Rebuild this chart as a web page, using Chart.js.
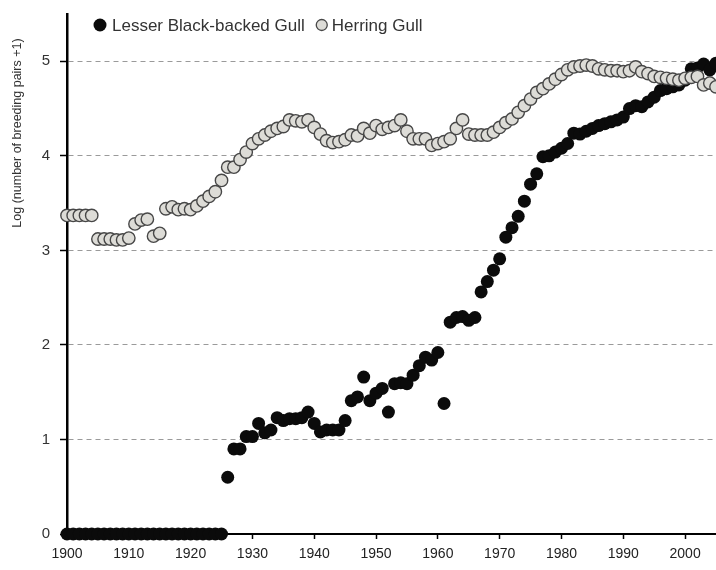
<!DOCTYPE html>
<html>
<head>
<meta charset="utf-8">
<script src="https://cdn.jsdelivr.net/npm/chart.js@4.4.1/dist/chart.umd.min.js"></script>
<style>
  html, body { margin: 0; padding: 0; background: #ffffff; }
  #wrap { width: 716px; height: 570px; }
</style>
</head>
<body>
<div id="wrap"><canvas id="c" width="716" height="570"></canvas></div>
<script>
const seriesNames = ['Lesser Black-backed Gull', 'Herring Gull'];
const yTitle = 'Log (number of breeding pairs +1)';
const yTickValues = [0, 1, 2, 3, 4, 5];
const xTickValues = [1900, 1910, 1920, 1930, 1940, 1950, 1960, 1970, 1980, 1990, 2000];

const years = [
  1900,1901,1902,1903,1904,1905,1906,1907,1908,1909,
  1910,1911,1912,1913,1914,1915,1916,1917,1918,1919,
  1920,1921,1922,1923,1924,1925,1926,1927,1928,1929,
  1930,1931,1932,1933,1934,1935,1936,1937,1938,1939,
  1940,1941,1942,1943,1944,1945,1946,1947,1948,1949,
  1950,1951,1952,1953,1954,1955,1956,1957,1958,1959,
  1960,1961,1962,1963,1964,1965,1966,1967,1968,1969,
  1970,1971,1972,1973,1974,1975,1976,1977,1978,1979,
  1980,1981,1982,1983,1984,1985,1986,1987,1988,1989,
  1990,1991,1992,1993,1994,1995,1996,1997,1998,1999,
  2000,2001,2002,2003,2004,2005
];

const lesserBlackBacked = [
  0,0,0,0,0,0,0,0,0,0,
  0,0,0,0,0,0,0,0,0,0,
  0,0,0,0,0,0,0.60,0.90,0.90,1.03,
  1.03,1.17,1.07,1.10,1.23,1.20,1.22,1.22,1.23,1.29,
  1.17,1.08,1.10,1.10,1.10,1.20,1.41,1.45,1.66,1.41,
  1.49,1.54,1.29,1.59,1.60,1.59,1.68,1.78,1.87,1.84,
  1.92,1.38,2.24,2.29,2.30,2.26,2.29,2.56,2.67,2.79,
  2.91,3.14,3.24,3.36,3.52,3.70,3.81,3.99,4.00,4.04,
  4.08,4.13,4.24,4.23,4.26,4.29,4.32,4.34,4.36,4.38,
  4.41,4.50,4.53,4.52,4.57,4.62,4.69,4.71,4.73,4.75,
  4.80,4.92,4.93,4.97,4.91,4.98
];

const herring = [
  3.37,3.37,3.37,3.37,3.37,3.12,3.12,3.12,3.11,3.11,
  3.13,3.28,3.32,3.33,3.15,3.18,3.44,3.46,3.43,3.44,
  3.43,3.47,3.52,3.57,3.62,3.74,3.88,3.88,3.96,4.04,
  4.13,4.18,4.22,4.26,4.29,4.31,4.38,4.37,4.36,4.38,
  4.30,4.23,4.16,4.14,4.15,4.17,4.22,4.21,4.29,4.24,
  4.32,4.28,4.30,4.32,4.38,4.26,4.18,4.18,4.18,4.11,
  4.13,4.15,4.18,4.29,4.38,4.23,4.22,4.22,4.22,4.25,
  4.30,4.35,4.39,4.46,4.53,4.60,4.67,4.71,4.76,4.81,
  4.86,4.91,4.94,4.95,4.96,4.95,4.92,4.91,4.90,4.90,
  4.89,4.90,4.94,4.89,4.87,4.84,4.83,4.82,4.81,4.80,
  4.82,4.83,4.84,4.75,4.77,4.73
];

const FONT = "'Liberation Sans', 'DejaVu Sans', sans-serif";
const LBBG_FILL = '#0b0b0b';
const HG_FILL = '#dddcd7';
const HG_EDGE = '#474747';

const toPoints = (vals) => years.map((yr, i) => ({ x: yr, y: vals[i] }));

const overlayPlugin = {
  id: 'overlay',
  afterDraw(chart) {
    const ctx = chart.ctx;
    ctx.save();
    // y-axis title
    ctx.translate(18, 133);
    ctx.rotate(-Math.PI / 2);
    ctx.font = '12.5px ' + FONT;
    ctx.fillStyle = '#333333';
    ctx.textAlign = 'center';
    ctx.textBaseline = 'middle';
    ctx.fillText(yTitle, 0, 0);
    ctx.restore();

    // legend
    ctx.save();
    ctx.font = '17px ' + FONT;
    ctx.textBaseline = 'middle';
    ctx.textAlign = 'left';
    const cy = 25;
    let x = 100;
    ctx.beginPath();
    ctx.arc(x, cy, 6.5, 0, Math.PI * 2);
    ctx.fillStyle = LBBG_FILL;
    ctx.fill();
    ctx.fillStyle = '#333333';
    ctx.fillText(seriesNames[0], x + 12, cy + 1);
    const w0 = ctx.measureText(seriesNames[0]).width;
    x = x + 12 + w0 + 17;
    ctx.beginPath();
    ctx.arc(x, cy, 5.5, 0, Math.PI * 2);
    ctx.fillStyle = HG_FILL;
    ctx.fill();
    ctx.lineWidth = 1.3;
    ctx.strokeStyle = HG_EDGE;
    ctx.stroke();
    ctx.fillStyle = '#333333';
    ctx.fillText(seriesNames[1], x + 10, cy + 1);
    ctx.restore();
  }
};

new Chart(document.getElementById('c'), {
  type: 'scatter',
  data: {
    datasets: [
      {
        label: seriesNames[0],
        data: toPoints(lesserBlackBacked),
        backgroundColor: LBBG_FILL,
        borderColor: LBBG_FILL,
        borderWidth: 0,
        pointRadius: 6.5,
        pointHoverRadius: 6.5,
        clip: false,
        order: 2
      },
      {
        label: seriesNames[1],
        data: toPoints(herring),
        backgroundColor: HG_FILL,
        borderColor: HG_EDGE,
        borderWidth: 1.4,
        pointRadius: 6.2,
        pointHoverRadius: 6.2,
        clip: false,
        order: 1
      }
    ]
  },
  options: {
    responsive: false,
    animation: false,
    devicePixelRatio: 1,
    layout: { autoPadding: false, padding: { top: 14, right: 0, left: 0, bottom: 0 } },
    plugins: {
      legend: { display: false },
      tooltip: { enabled: false },
      title: { display: false }
    },
    scales: {
      x: {
        type: 'linear',
        min: 1900,
        max: 2005,
        afterFit: (s) => { s.height = 36; s.paddingLeft = 0; s.paddingRight = 0; },
        afterBuildTicks: (s) => { s.ticks = xTickValues.map(v => ({ value: v })); },
        ticks: {
          font: { family: FONT, size: 14 },
          color: '#222222',
          padding: 7,
          maxRotation: 0,
          autoSkip: false,
          callback: (v) => String(v)
        },
        grid: {
          drawOnChartArea: false,
          drawTicks: true,
          tickColor: '#000000',
          tickLength: 5,
          tickWidth: 1.5
        },
        border: { display: true, color: '#000000', width: 2 }
      },
      y: {
        min: 0,
        max: 5.5,
        afterFit: (s) => { s.width = 67; s.paddingTop = 0; s.paddingBottom = 0; },
        afterBuildTicks: (s) => { s.ticks = yTickValues.map(v => ({ value: v })); },
        ticks: {
          font: { family: FONT, size: 15 },
          color: '#333333',
          padding: 10,
          callback: (v) => String(v)
        },
        grid: {
          color: (ctx) => (ctx.tick && ctx.tick.value === 0) ? 'rgba(0,0,0,0)' : '#9a9a9a',
          lineWidth: 1,
          tickColor: '#000000',
          tickLength: 7,
          tickWidth: 1.5,
          tickBorderDash: []
        },
        border: { display: true, color: '#000000', width: 2.5, dash: [5, 4] }
      }
    }
  },
  plugins: [overlayPlugin]
});
</script>
</body>
</html>
